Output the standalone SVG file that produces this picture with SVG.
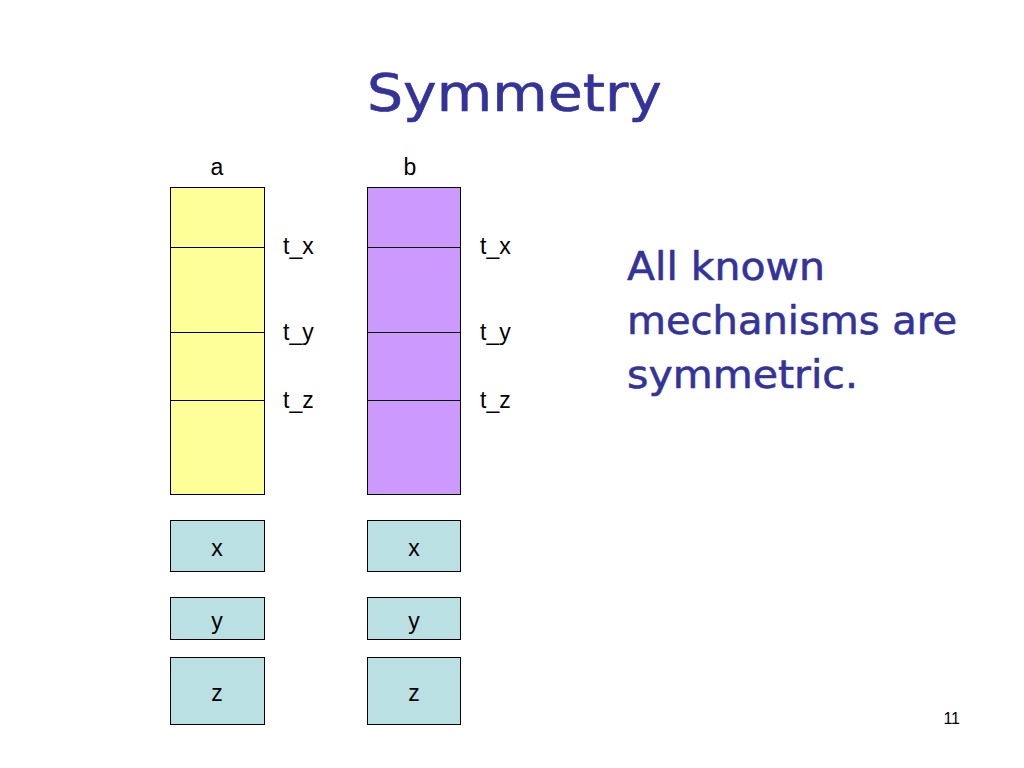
<svg xmlns="http://www.w3.org/2000/svg" width="1024" height="768" viewBox="0 0 1024 768">
<style>
.lbl{font-family:"Liberation Sans",Arial,sans-serif;font-size:23px;fill:#000}
.ctr{text-anchor:middle}
.blue{font-family:"DejaVu Sans","Noto Sans",sans-serif;fill:#333399;stroke:#333399;stroke-width:0.6;stroke-linejoin:round}
.col{stroke:#000;stroke-width:1}
.reg{fill:#BBE0E3;stroke:#000;stroke-width:1}
.div{stroke:#000;stroke-width:1}
</style>
<rect width="1024" height="768" fill="#fff"/>
<text id="title" class="blue" x="367" y="111" font-size="52" textLength="295" lengthAdjust="spacingAndGlyphs">Symmetry</text>
<g id="col-a">
<text class="lbl ctr" x="217" y="175">a</text>
<rect class="col" x="170.5" y="187.5" width="94" height="307" fill="#FFFF99"/>
<line class="div" x1="170.5" y1="247.5" x2="264.5" y2="247.5"/>
<line class="div" x1="170.5" y1="332.5" x2="264.5" y2="332.5"/>
<line class="div" x1="170.5" y1="400.5" x2="264.5" y2="400.5"/>
<text class="lbl" x="283" y="254">t_x</text>
<text class="lbl" x="283" y="340">t_y</text>
<text class="lbl" x="283" y="408">t_z</text>
</g>
<g id="col-b">
<text class="lbl ctr" x="410" y="175">b</text>
<rect class="col" x="367.5" y="187.5" width="93" height="307" fill="#CC99FF"/>
<line class="div" x1="367.5" y1="247.5" x2="460.5" y2="247.5"/>
<line class="div" x1="367.5" y1="332.5" x2="460.5" y2="332.5"/>
<line class="div" x1="367.5" y1="400.5" x2="460.5" y2="400.5"/>
<text class="lbl" x="480" y="254">t_x</text>
<text class="lbl" x="480" y="340">t_y</text>
<text class="lbl" x="480" y="408">t_z</text>
</g>
<g id="a-x"><rect class="reg" x="170.5" y="520.5" width="94" height="51"/><text class="lbl ctr" x="217" y="556">x</text></g>
<g id="a-y"><rect class="reg" x="170.5" y="597.5" width="94" height="42"/><text class="lbl ctr" x="217" y="629">y</text></g>
<g id="a-z"><rect class="reg" x="170.5" y="657.5" width="94" height="67"/><text class="lbl ctr" x="217" y="701">z</text></g>
<g id="b-x"><rect class="reg" x="367.5" y="520.5" width="93" height="51"/><text class="lbl ctr" x="414" y="556">x</text></g>
<g id="b-y"><rect class="reg" x="367.5" y="597.5" width="93" height="42"/><text class="lbl ctr" x="414" y="629">y</text></g>
<g id="b-z"><rect class="reg" x="367.5" y="657.5" width="93" height="67"/><text class="lbl ctr" x="414" y="701">z</text></g>
<g id="note" class="blue" font-size="39">
<text x="627" y="280" textLength="198" lengthAdjust="spacingAndGlyphs">All known</text>
<text x="627" y="334" textLength="330" lengthAdjust="spacingAndGlyphs">mechanisms are</text>
<text x="627" y="388" textLength="231" lengthAdjust="spacingAndGlyphs">symmetric.</text>
</g>
<text id="page" x="960" y="724" text-anchor="end" font-family="Liberation Sans,Arial,sans-serif" font-size="16">11</text>
</svg>
